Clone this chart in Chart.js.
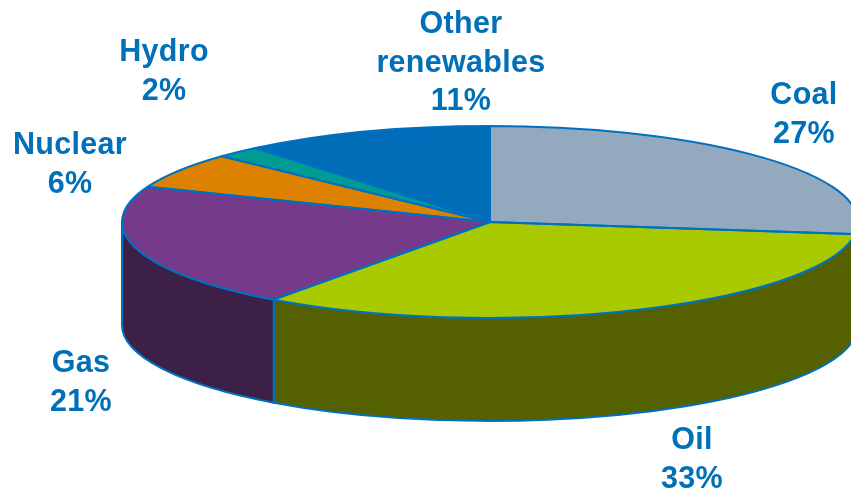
<!DOCTYPE html>
<html>
<head>
<meta charset="utf-8">
<title>Energy mix</title>
<style>
  html, body { margin: 0; padding: 0; background: #fff; }
  canvas { display: block; }
</style>
<script src="https://cdn.jsdelivr.net/npm/chart.js@4/dist/chart.umd.min.js"></script>
</head>
<body>
<canvas id="pie" width="851" height="493"></canvas>
<script>
// Energy sources, clockwise from twelve o'clock
const categories = [['Coal'], ['Oil'], ['Gas'], ['Nuclear'], ['Hydro'], ['Other', 'renewables']];
const shares = [27, 33, 21, 6, 2, 11];
const topColors = ['#93A9BE', '#A9C900', '#763A8A', '#DD8200', '#009C93', '#006DB8'];
const sideColors = ['#4A5561', '#556000', '#3C2048', '#6F4100', '#004E4A', '#00375C'];

// Look of the tilted disc
const CENTER = { x: 490, y: 222 };
const RADIUS_X = 368;
const RADIUS_Y = 96;
const DEPTH = 103;
const EDGE = '#0070C0';
const TEXT = '#0070B8';
const BASE_RADIUS = 100;

// Centre x and first baseline of each label block
const labelAnchors = [
  [804, 104], [692, 449], [81, 372], [70, 154], [164, 61], [461, 33]
];
const LINE_HEIGHT = 38.5;

const tiltedPie = {
  id: 'tiltedPie',
  // Side walls go first so the top surface covers their upper edge
  beforeDatasetDraw(chart) {
    const ctx = chart.ctx;
    ctx.save();
    chart.getDatasetMeta(0).data.forEach((arc, i) => {
      const a0 = Math.max(arc.startAngle, 0);
      const a1 = Math.min(arc.endAngle, Math.PI);
      if (a1 <= a0) return;
      ctx.beginPath();
      ctx.ellipse(arc.x, arc.y, RADIUS_X, RADIUS_Y, 0, a0, a1);
      ctx.ellipse(arc.x, arc.y + DEPTH, RADIUS_X, RADIUS_Y, 0, a1, a0, true);
      ctx.closePath();
      ctx.fillStyle = sideColors[i];
      ctx.fill();
      ctx.lineWidth = 2;
      ctx.strokeStyle = EDGE;
      ctx.stroke();
    });
    ctx.restore();
    // The library's round arcs are squashed into the ellipse
    const first = chart.getDatasetMeta(0).data[0];
    ctx.save();
    ctx.translate(first.x, first.y);
    ctx.scale(RADIUS_X / first.outerRadius, RADIUS_Y / first.outerRadius);
    ctx.translate(-first.x, -first.y);
  },
  afterDatasetDraw(chart) {
    const ctx = chart.ctx;
    ctx.restore();
    // Wedge outlines are stroked unscaled to keep an even line width
    ctx.save();
    ctx.lineWidth = 2;
    ctx.lineJoin = 'round';
    ctx.strokeStyle = EDGE;
    chart.getDatasetMeta(0).data.forEach(arc => {
      ctx.beginPath();
      ctx.moveTo(arc.x, arc.y);
      ctx.ellipse(arc.x, arc.y, RADIUS_X, RADIUS_Y, 0, arc.startAngle, arc.endAngle);
      ctx.closePath();
      ctx.stroke();
    });
    ctx.restore();
  },
  afterDraw(chart) {
    const ctx = chart.ctx;
    ctx.save();
    ctx.font = 'bold 30.5px "Liberation Sans", Arial, sans-serif';
    ctx.letterSpacing = '0.3px';
    ctx.fillStyle = TEXT;
    ctx.textAlign = 'center';
    ctx.textBaseline = 'alphabetic';
    categories.forEach((lines, i) => {
      const [x, y] = labelAnchors[i];
      [...lines, shares[i] + '%'].forEach((line, n) => {
        ctx.fillText(line, x, y + n * LINE_HEIGHT);
      });
    });
    ctx.restore();
  }
};

new Chart(document.getElementById('pie'), {
  type: 'pie',
  data: {
    labels: categories,
    datasets: [{
      data: shares,
      backgroundColor: topColors,
      borderWidth: 0,
      hoverOffset: 0,
      clip: false
    }]
  },
  options: {
    responsive: false,
    animation: false,
    events: [],
    layout: {
      padding: {
        left: CENTER.x - BASE_RADIUS,
        right: 851 - CENTER.x - BASE_RADIUS,
        top: CENTER.y - BASE_RADIUS,
        bottom: 493 - CENTER.y - BASE_RADIUS
      }
    },
    plugins: { legend: { display: false }, tooltip: { enabled: false } }
  },
  plugins: [tiltedPie]
});
</script>
</body>
</html>
